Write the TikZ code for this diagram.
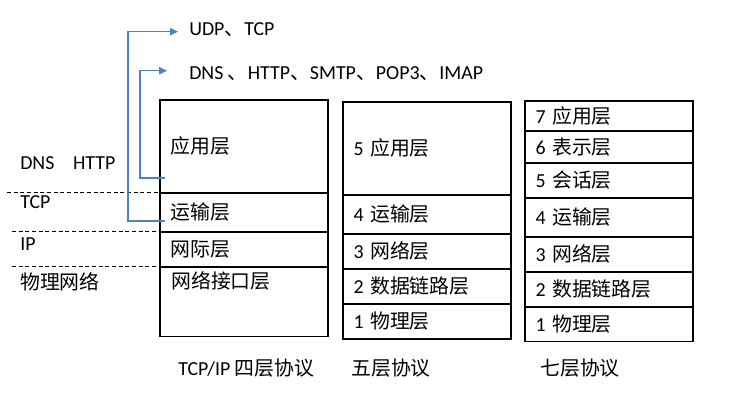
\documentclass[tikz,border=0pt]{standalone}
\usepackage{fontspec}
\setmainfont{Carlito}
\newfontfamily\cjk{Noto Sans CJK SC}
\usetikzlibrary{arrows.meta}
\definecolor{linkblue}{RGB}{79,129,189}
\newcommand{\pad}{8pt}
\tikzset{
  cell/.style={draw, line width=0.9pt, anchor=north west, text width=110pt,
    inner xsep=\pad, inner ysep=0pt, align=left},
  txt/.style={anchor=base west, inner sep=0pt},
  link/.style={draw=linkblue, line width=1pt, -{Triangle[length=6pt,width=5.5pt]}},
  sep/.style={line width=0.6pt, dash pattern=on 3pt off 2pt}
}

\begin{document}
\begin{tikzpicture}[x=0.75pt, y=-0.75pt, font=\fontsize{14.9}{17}\selectfont]
\useasboundingbox (0,0) rectangle (756,401);
%4
\node[cell, minimum height=69.75pt] (app4) at (159.3,99.3) {\cjk 应用层};
\node[cell, minimum height=29.25pt] (tcp4) at (159.3,192.3) {\cjk 运输层};
\node[cell, minimum height=26.25pt] (ip4) at (159.3,231.3) {\cjk 网际层};
\node[cell, minimum height=52.3pt] (net4) at (159.3,266.3) {};
\node[txt] (net4t) at (171,288.5) {\cjk 网络接口层};
%5
\node[cell, minimum height=69.75pt] (app5) at (342.3,101.3) {5 {\cjk 应用层}};
\node[cell, minimum height=29.25pt] (tcp5) at (342.3,194.3) {4 {\cjk 运输层}};
\node[cell, minimum height=26.25pt] (net5) at (342.3,233.3) {3 {\cjk 网络层}};
\node[cell, minimum height=26.25pt] (link5) at (342.3,268.3) {2 {\cjk 数据链路层}};
\node[cell, minimum height=26.25pt] (phy5) at (342.3,303.3) {1 {\cjk 物理层}};
%7
\node[cell, minimum height=22.5pt] (app7) at (524.3,100.3) {7 {\cjk 应用层}};
\node[cell, minimum height=24pt] (pre7) at (524.3,130.3) {6 {\cjk 表示层}};
\node[cell, minimum height=26.25pt] (ses7) at (524.3,162.3) {5 {\cjk 会话层}};
\node[cell, minimum height=29.25pt] (tcp7) at (524.3,197.3) {4 {\cjk 运输层}};
\node[cell, minimum height=26.25pt] (net7) at (524.3,236.3) {3 {\cjk 网络层}};
\node[cell, minimum height=26.25pt] (link7) at (524.3,271.3) {2 {\cjk 数据链路层}};
\node[cell, minimum height=26pt] (phy7) at (524.3,306.3) {1 {\cjk 物理层}};
%captions
\node[txt] (cap4) at (178,375) {TCP/IP {\cjk 四层协议}};
\node[txt] (cap5) at (351,375) {\cjk 五层协议};
\node[txt] (cap7) at (540,375) {\cjk 七层协议};
%left
\node[txt] (dnsl) at (20,169.3) {DNS\hspace{14pt}HTTP};
\node[txt] (tcpl) at (20,208.3) {TCP};
\node[txt] (ipl) at (20,250.7) {IP};
\node[txt] (phyl) at (20,289) {\cjk 物理网络};
\draw[sep] (7,192.3) -- (tcp4.north west);
\draw[sep] (12,231.3) -- (ip4.north west);
\draw[sep] (12,266.3) -- (net4.north west);
%top
\node[txt] (udp) at (189,35) {UDP{\cjk 、}TCP};
\node[txt] (dns) at (189,79) {DNS {\cjk 、}HTTP{\cjk 、}SMTP{\cjk 、}POP3{\cjk 、}IMAP};
\coordinate (tcpin) at (165,221);
\coordinate (appin) at (165,178);
\draw[link] (tcpin) -- ++(-37,0) |- ([xshift=-8.25pt,yshift=2.5pt]udp.base west);
\draw[link] (appin) -- ++(-25,0) |- ([xshift=-16.5pt,yshift=6.2pt]dns.base west);
\end{tikzpicture}
\end{document}
